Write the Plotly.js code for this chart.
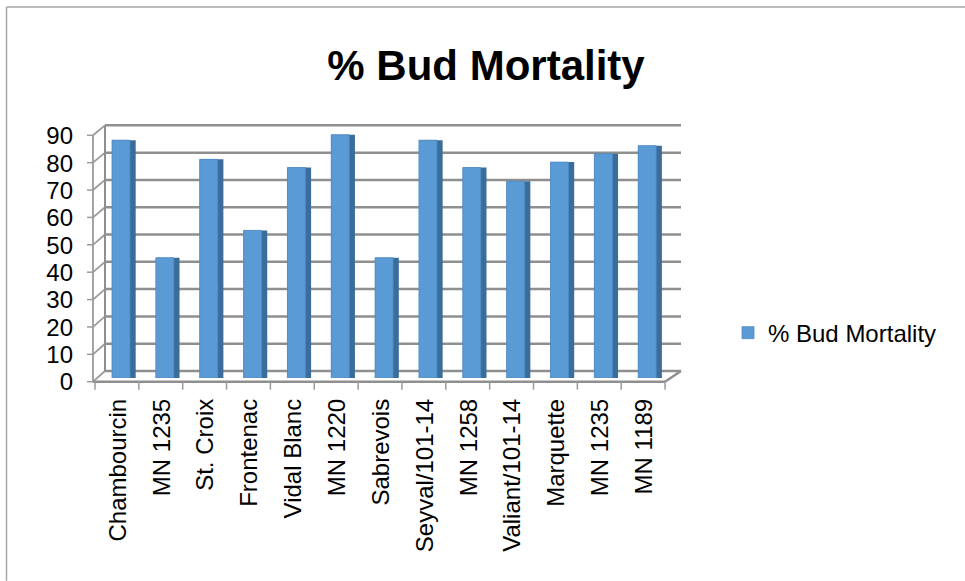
<!DOCTYPE html>
<html>
<head>
<meta charset="utf-8">
<script src="https://cdn.plot.ly/plotly-3.0.1.min.js"></script>
<style>html,body{margin:0;padding:0;background:#fff;}#chart{width:965px;height:581px;}</style>
</head>
<body>
<div id="chart"></div>
<script>
// ---- data ----
const categories = ["Chambourcin","MN 1235","St. Croix","Frontenac","Vidal Blanc","MN 1220","Sabrevois","Seyval/101-14","MN 1258","Valiant/101-14","Marquette","MN 1235","MN 1189"];
const budMortality = [87, 44, 80, 54, 77, 89, 44, 87, 77, 72, 79, 82, 85];
const seriesName = "% Bud Mortality";
const yTicks = [0, 10, 20, 30, 40, 50, 60, 70, 80, 90];

// ---- geometry (pixels) ----
const W = 965, H = 581;
const L = 93, R = 685, T = 131.7, B = 378;     // plot area
const catStep = 43.85, barCenter0 = 121;       // first bar centre
const FX = 93, FY0 = 381.7, FS = 2.741;        // front (left wall) edge
const BX = 105, BXR = 681, BY0 = 371, BS = 2.733; // back wall
const floorFrontRight = 665, catTick0 = 95;

const xp = px => (px - L) / (R - L);
const yp = py => (B - py) / (B - T);
const idx = categories.map((_, i) => i);
const xmin = (L - barCenter0) / catStep, xmax = (R - barCenter0) / catStep;

const gridCol = '#8f8f8f', wallCol = '#9a9a9a';
const shapes = [];
function seg(x0, y0, x1, y1, col, w) {
  shapes.push({type: 'line', xref: 'paper', yref: 'paper', layer: 'below',
    x0: xp(x0), y0: yp(y0), x1: xp(x1), y1: yp(y1), line: {color: col, width: w}});
}
const yMax = yTicks[yTicks.length - 1];
yTicks.forEach(v => {
  seg(BX, BY0 - BS * v, BXR, BY0 - BS * v, gridCol, 2.5);       // back wall grid
  seg(FX, FY0 - FS * v, BX, BY0 - BS * v, wallCol, 1.8);        // side wall diagonal
  seg(FX - 6, FY0 - FS * v, FX, FY0 - FS * v, wallCol, 1.5);    // tick
});
seg(FX, FY0, FX, FY0 - FS * yMax, wallCol, 1.8);
seg(BX, BY0, BX, BY0 - BS * yMax, gridCol, 2);
seg(FX, FY0, floorFrontRight, FY0, gridCol, 2.5);
seg(floorFrontRight, FY0, BXR, BY0, gridCol, 2.5);
for (let k = 0; k <= categories.length; k++) {
  const x = catTick0 + catStep * k;
  seg(x, FY0, x, FY0 + 8, wallCol, 1.5);
}
// chart border (top & left visible)
seg(6.5, 6.5, W, 6.5, '#a6a6a6', 1.5);
seg(6.5, 6.5, 6.5, H, '#a6a6a6', 1.5);

const traces = [
  {type: 'bar', x: idx, y: budMortality, width: 0.54, offset: -0.205,
   marker: {color: '#3a6c9c'}, showlegend: false, hoverinfo: 'skip'},
  {type: 'bar', x: idx, y: budMortality, width: 0.41, offset: -0.205, name: seriesName,
   marker: {color: '#5b9bd5', line: {color: '#4f8cc4', width: 0.8}}}
];

const font = 'Liberation Sans, Arial, sans-serif';
const layout = {
  width: W, height: H,
  margin: {l: L, r: W - R, t: T, b: H - B, pad: 0},
  paper_bgcolor: '#ffffff', plot_bgcolor: 'rgba(0,0,0,0)',
  barmode: 'overlay',
  title: {text: '<b>% Bud Mortality</b>', x: 486 / W, xanchor: 'center', xref: 'container',
          y: 1 - 65 / H, yanchor: 'middle', yref: 'container',
          font: {family: font, size: 42, color: '#000'}},
  xaxis: {range: [xmin, xmax], tickmode: 'array', tickvals: idx, ticktext: categories,
          tickangle: -90, ticks: '', showgrid: false, zeroline: false, showline: false,
          ticklabelstandoff: 15, ticklabelshift: -3,
          tickfont: {family: font, size: 24, color: '#000'}, fixedrange: true},
  yaxis: {range: [0, 90], tickmode: 'array', tickvals: yTicks, ticks: '', showgrid: false,
          zeroline: false, showline: false, ticklabelstandoff: 19, ticklabelshift: 4,
          tickfont: {family: font, size: 24, color: '#000'}, fixedrange: true},
  legend: {x: xp(728), xanchor: 'left', y: yp(333), yanchor: 'middle',
           font: {family: font, size: 24, color: '#000'}, bgcolor: 'rgba(0,0,0,0)', borderwidth: 0},
  showlegend: true,
  shapes: shapes
};
Plotly.newPlot('chart', traces, layout, {displayModeBar: false, staticPlot: true});
</script>
</body>
</html>
